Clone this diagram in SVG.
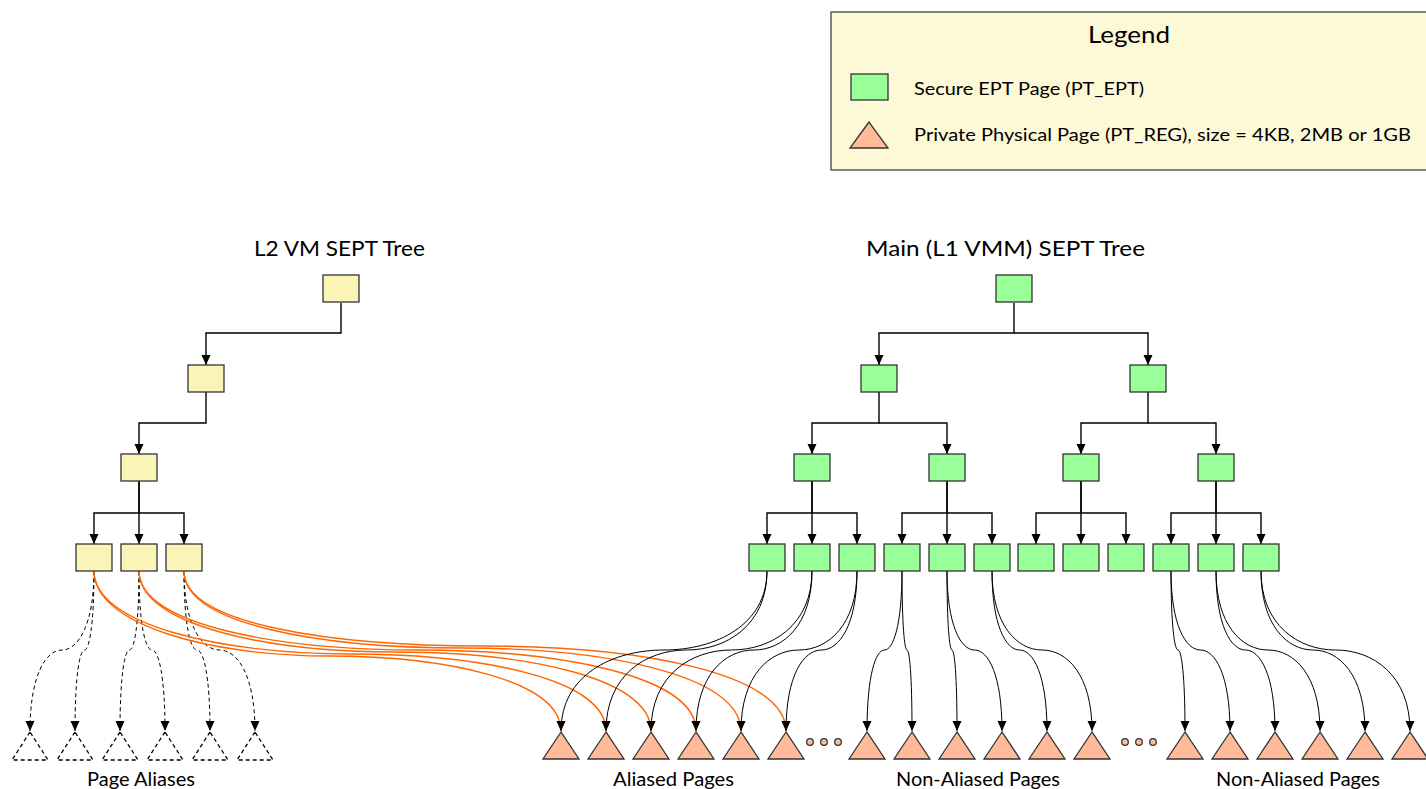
<svg xmlns="http://www.w3.org/2000/svg" width="1426" height="789" viewBox="0 0 1426 789">
<style>
.t{font-family:Lato,"Liberation Sans",sans-serif;fill:#000}
.y{fill:#FAF4B6;stroke:#333;stroke-width:1.3}
.g{fill:#99FF99;stroke:#333;stroke-width:1.3}
.p{fill:#FFBB99;stroke:#333;stroke-width:1.3}
.a{fill:none;stroke:#000;stroke-width:1.3;stroke-dasharray:4,3}
.e{fill:none;stroke:#000;stroke-width:1.4;marker-end:url(#ab)}
.c{fill:none;stroke:#000;stroke-width:1;marker-end:url(#ab)}
.d{fill:none;stroke:#000;stroke-width:1;stroke-dasharray:4,3;marker-end:url(#ab)}
.o{fill:none;stroke:#FF6600;stroke-width:1.4;marker-end:url(#ao)}
</style>
<defs>
<marker id="ab" markerUnits="userSpaceOnUse" markerWidth="10" markerHeight="10" viewBox="0 0 10 9" refX="10" refY="4.5" orient="auto"><path d="M0,0 L10,4.5 L0,9 z" fill="#000"/></marker>
<marker id="ao" markerUnits="userSpaceOnUse" markerWidth="10" markerHeight="10" viewBox="0 0 10 9" refX="10" refY="4.5" orient="auto"><path d="M0,0 L10,4.5 L0,9 z" fill="#FF6600"/></marker>
</defs>

<g id="legend">
<rect x="831" y="12" width="600" height="158" fill="#FDF8D6" stroke="#333" stroke-width="1.2"/>
<text class="t" x="1129" y="43" font-size="23" text-anchor="middle" textLength="82" lengthAdjust="spacingAndGlyphs">Legend</text>
<rect class="g" x="851" y="74" width="37" height="26"/>
<text class="t" x="914" y="95" font-size="16.5" textLength="230" lengthAdjust="spacingAndGlyphs">Secure EPT Page (PT_EPT)</text>
<polygon class="p" points="869,122 850,148 888,148"/>
<text class="t" x="914" y="141" font-size="16.5" textLength="497" lengthAdjust="spacingAndGlyphs">Private Physical Page (PT_REG), size = 4KB, 2MB or 1GB</text>
</g>

<g id="titles">
<text class="t" x="254" y="256" font-size="22" textLength="171" lengthAdjust="spacingAndGlyphs">L2 VM SEPT Tree</text>
<text class="t" x="866" y="256" font-size="22" textLength="279" lengthAdjust="spacingAndGlyphs">Main (L1 VMM) SEPT Tree</text>
<text class="t" x="87" y="786" font-size="18.5" textLength="108" lengthAdjust="spacingAndGlyphs">Page Aliases</text>
<text class="t" x="613" y="786" font-size="18.5" textLength="121" lengthAdjust="spacingAndGlyphs">Aliased Pages</text>
<text class="t" x="896" y="786" font-size="18.5" textLength="164" lengthAdjust="spacingAndGlyphs">Non-Aliased Pages</text>
<text class="t" x="1216" y="786" font-size="18.5" textLength="164" lengthAdjust="spacingAndGlyphs">Non-Aliased Pages</text>
</g>

<g id="connectors">
<!-- L2 tree -->
<path class="e" d="M341,303 V333 H206 V365"/>
<path class="e" d="M206,392 V423 H139 V454"/>
<path class="e" d="M139,481 V513 H94 V544"/>
<path class="e" d="M139,481 V544"/>
<path class="e" d="M139,513 H184 V544"/>
<!-- main tree -->
<path class="e" d="M1014,303 V333 H879 V365"/>
<path class="e" d="M1014,333 H1148 V365"/>
<path class="e" d="M879,392 V423 H812 V454"/>
<path class="e" d="M879,423 H947 V454"/>
<path class="e" d="M1148,392 V423 H1081 V454"/>
<path class="e" d="M1148,423 H1216 V454"/>
<path class="e" d="M812,481 V513 H767 V544"/>
<path class="e" d="M812,481 V544"/>
<path class="e" d="M812,513 H857 V544"/>
<path class="e" d="M947,481 V513 H902 V544"/>
<path class="e" d="M947,481 V544"/>
<path class="e" d="M947,513 H992 V544"/>
<path class="e" d="M1081,481 V513 H1036 V544"/>
<path class="e" d="M1081,481 V544"/>
<path class="e" d="M1081,513 H1126 V544"/>
<path class="e" d="M1216,481 V513 H1171 V544"/>
<path class="e" d="M1216,481 V544"/>
<path class="e" d="M1216,513 H1261 V544"/>
<!-- dashed to page aliases -->
<path class="d" d="M94,571 C94,625 78,650 62,650 C46,650 30,675 30,731"/>
<path class="d" d="M94,571 C94,625 89.25,650 84.5,650 C79.75,650 75,675 75,731"/>
<path class="d" d="M139,571 C139,625 134.25,650 129.5,650 C124.75,650 120,675 120,731"/>
<path class="d" d="M139,571 C139,625 145.5,650 152,650 C158.5,650 165,675 165,731"/>
<path class="d" d="M184,571 C184,625 190.5,650 197,650 C203.5,650 210,675 210,731"/>
<path class="d" d="M184,571 C184,625 201.75,650 219.5,650 C237.25,650 255,675 255,731"/>
<!-- orange aliases -->
<path class="o" d="M94,571 C94,625 210.75,656 327.5,656 C444.25,656 561,680 561,731"/>
<path class="o" d="M94,571 C94,625 222,654 350,654 C478,654 606,678 606,731"/>
<path class="o" d="M139,571 C139,625 267,652 395,652 C523,652 651,677 651,731"/>
<path class="o" d="M139,571 C139,625 278.25,650 417.5,650 C556.75,650 696,675 696,731"/>
<path class="o" d="M184,571 C184,625 323.25,648 462.5,648 C601.75,648 741,674 741,731"/>
<path class="o" d="M184,571 C184,625 334.5,646 485,646 C635.5,646 786,672 786,731"/>
<!-- black to aliased pages -->
<path class="c" d="M767,571 C767,625 715.5,650 664,650 C612.5,650 561,675 561,731"/>
<path class="c" d="M767,571 C767,625 726.75,650 686.5,650 C646.25,650 606,675 606,731"/>
<path class="c" d="M812,571 C812,625 771.75,650 731.5,650 C691.25,650 651,675 651,731"/>
<path class="c" d="M812,571 C812,625 783,650 754,650 C725,650 696,675 696,731"/>
<path class="c" d="M857,571 C857,625 828,650 799,650 C770,650 741,675 741,731"/>
<path class="c" d="M857,571 C857,625 839.25,650 821.5,650 C803.75,650 786,675 786,731"/>
<!-- non-aliased group 1 -->
<path class="c" d="M902,571 C902,625 893.25,650 884.5,650 C875.75,650 867,675 867,731"/>
<path class="c" d="M902,571 C902,625 904.5,650 907,650 C909.5,650 912,675 912,731"/>
<path class="c" d="M947,571 C947,625 949.5,650 952,650 C954.5,650 957,675 957,731"/>
<path class="c" d="M947,571 C947,625 960.75,650 974.5,650 C988.25,650 1002,675 1002,731"/>
<path class="c" d="M992,571 C992,625 1005.75,650 1019.5,650 C1033.25,650 1047,675 1047,731"/>
<path class="c" d="M992,571 C992,625 1017,650 1042,650 C1067,650 1092,675 1092,731"/>
<!-- non-aliased group 2 -->
<path class="c" d="M1171,571 C1171,625 1174.5,650 1178,650 C1181.5,650 1185,675 1185,731"/>
<path class="c" d="M1171,571 C1171,625 1185.75,650 1200.5,650 C1215.25,650 1230,675 1230,731"/>
<path class="c" d="M1216,571 C1216,625 1230.75,650 1245.5,650 C1260.25,650 1275,675 1275,731"/>
<path class="c" d="M1216,571 C1216,625 1242,650 1268,650 C1294,650 1320,675 1320,731"/>
<path class="c" d="M1261,571 C1261,625 1287,650 1313,650 C1339,650 1365,675 1365,731"/>
<path class="c" d="M1261,571 C1261,625 1298.25,650 1335.5,650 C1372.75,650 1410,675 1410,731"/>
</g>

<g id="l2-tree">
<rect id="l2-root" class="y" x="323" y="275" width="36" height="27"/>
<rect id="l2-n1" class="y" x="188" y="365" width="36" height="27"/>
<rect id="l2-n2" class="y" x="121" y="454" width="36" height="27"/>
<rect id="l2-leaf1" class="y" x="76" y="544" width="36" height="27"/>
<rect id="l2-leaf2" class="y" x="121" y="544" width="36" height="27"/>
<rect id="l2-leaf3" class="y" x="166" y="544" width="36" height="27"/>
</g>

<g id="main-tree">
<rect id="m-root" class="g" x="996" y="275" width="36" height="27"/>
<rect id="m-l2a" class="g" x="861" y="365" width="36" height="27"/>
<rect id="m-l2b" class="g" x="1130" y="365" width="36" height="27"/>
<rect id="m-l3a" class="g" x="794" y="454" width="36" height="27"/>
<rect id="m-l3b" class="g" x="929" y="454" width="36" height="27"/>
<rect id="m-l3c" class="g" x="1063" y="454" width="36" height="27"/>
<rect id="m-l3d" class="g" x="1198" y="454" width="36" height="27"/>
<rect id="m-l4-1" class="g" x="749" y="544" width="36" height="27"/>
<rect id="m-l4-2" class="g" x="794" y="544" width="36" height="27"/>
<rect id="m-l4-3" class="g" x="839" y="544" width="36" height="27"/>
<rect id="m-l4-4" class="g" x="884" y="544" width="36" height="27"/>
<rect id="m-l4-5" class="g" x="929" y="544" width="36" height="27"/>
<rect id="m-l4-6" class="g" x="974" y="544" width="36" height="27"/>
<rect id="m-l4-7" class="g" x="1018" y="544" width="36" height="27"/>
<rect id="m-l4-8" class="g" x="1063" y="544" width="36" height="27"/>
<rect id="m-l4-9" class="g" x="1108" y="544" width="36" height="27"/>
<rect id="m-l4-10" class="g" x="1153" y="544" width="36" height="27"/>
<rect id="m-l4-11" class="g" x="1198" y="544" width="36" height="27"/>
<rect id="m-l4-12" class="g" x="1243" y="544" width="36" height="27"/>
</g>

<g id="page-aliases">
<polygon class="a" points="30,732 12,760 48,760"/>
<polygon class="a" points="75,732 57,760 93,760"/>
<polygon class="a" points="120,732 102,760 138,760"/>
<polygon class="a" points="165,732 147,760 183,760"/>
<polygon class="a" points="210,732 192,760 228,760"/>
<polygon class="a" points="255,732 237,760 273,760"/>
</g>

<g id="aliased-pages">
<polygon class="p" points="561,732 543,759 579,759"/>
<polygon class="p" points="606,732 588,759 624,759"/>
<polygon class="p" points="651,732 633,759 669,759"/>
<polygon class="p" points="696,732 678,759 714,759"/>
<polygon class="p" points="741,732 723,759 759,759"/>
<polygon class="p" points="786,732 768,759 804,759"/>
</g>

<g id="dots1">
<circle class="p" cx="810" cy="742" r="3.3" stroke-width="1"/>
<circle class="p" cx="824" cy="742" r="3.3" stroke-width="1"/>
<circle class="p" cx="838" cy="742" r="3.3" stroke-width="1"/>
</g>

<g id="non-aliased-1">
<polygon class="p" points="867,732 849,759 885,759"/>
<polygon class="p" points="912,732 894,759 930,759"/>
<polygon class="p" points="957,732 939,759 975,759"/>
<polygon class="p" points="1002,732 984,759 1020,759"/>
<polygon class="p" points="1047,732 1029,759 1065,759"/>
<polygon class="p" points="1092,732 1074,759 1110,759"/>
</g>

<g id="dots2">
<circle class="p" cx="1125" cy="742" r="3.3" stroke-width="1"/>
<circle class="p" cx="1139" cy="742" r="3.3" stroke-width="1"/>
<circle class="p" cx="1153" cy="742" r="3.3" stroke-width="1"/>
</g>

<g id="non-aliased-2">
<polygon class="p" points="1185,732 1167,759 1203,759"/>
<polygon class="p" points="1230,732 1212,759 1248,759"/>
<polygon class="p" points="1275,732 1257,759 1293,759"/>
<polygon class="p" points="1320,732 1302,759 1338,759"/>
<polygon class="p" points="1365,732 1347,759 1383,759"/>
<polygon class="p" points="1410,732 1392,759 1428,759"/>
</g>
</svg>
